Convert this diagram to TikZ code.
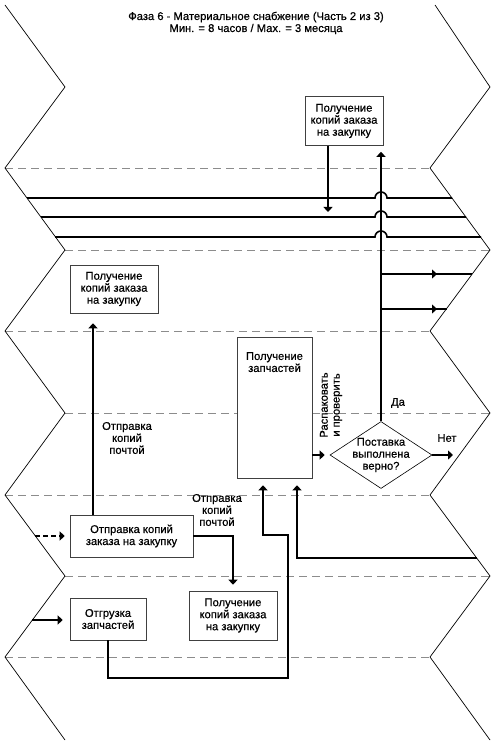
\documentclass[tikz,border=0pt]{standalone}
\usepackage{fontspec}
\setmainfont{Liberation Sans}[FakeBold=0.5]
\usetikzlibrary{calc,arrows.meta,shapes.geometric,decorations.markings}
\tikzset{
	box/.style={draw=black!75, line width=0.6pt, fill=white, align=center, inner sep=2pt, font=\fontsize{11.2}{12}\selectfont},
	decision/.style={diamond, draw=black, line width=0.6pt, fill=white, inner sep=0pt, minimum width=102pt, minimum height=67pt},
	txt/.style={align=center, font=\fontsize{11.2}{12}\selectfont},
	flow/.style={line width=1.6pt, -{Triangle[width=9pt,length=5pt]}},
	branch/.style={line width=1.6pt, postaction={decorate}, decoration={markings, mark=at position 56pt with {\arrow{Triangle[width=9pt,length=5pt]}}}},
	bus/.style={line width=1.6pt},
	lane/.style={line width=0.7pt},
	sep/.style={draw=black!45, line width=0.8pt, dash pattern=on 8pt off 5pt},
}
\def\hopline(#1)(#2)(#3){\draw[bus] (#1) -- ($(#3)+(-6,0)$) arc (180:360:6) -- (#2);}

\begin{document}
\begin{tikzpicture}[x=1pt, y=-1pt]
	%%%%% START %%%%%
	\useasboundingbox (0,0) rectangle (500,751);
	
	\draw[sep] (5,168) -- (430,168);
	\draw[sep] (65,250) -- (490,250);
	\draw[sep] (5,331) -- (430,331);
	\draw[sep] (65,413) -- (490,413);
	\draw[sep] (5,495) -- (430,495);
	\draw[sep] (65,576) -- (490,576);
	\draw[sep] (5,657) -- (430,657);
	
	\draw[lane] (5,5) -- (65,87) -- (5,168) -- (65,250) -- (5,331) -- (65,413) -- (5,495) -- (65,576) -- (5,657) -- (65,740);
	\draw[lane] (435,5) -- (490,87) -- (430,168) -- (490,250) -- (430,331) -- (490,413) -- (430,495) -- (490,576) -- (430,657) -- (490,740);
	
	\node[txt] (title) at (256,23) {Фаза 6 - Материальное снабжение (Часть 2 из 3)\\Мин. = 8 часов / Мах. = 3 месяца};
	
	\node[box, minimum width=78pt, minimum height=49pt] (getA) at (344,121) {Получение\\копий заказа\\на закупку};
	\node[box, minimum width=88pt, minimum height=48pt] (getB) at (114,289) {Получение\\копий заказа\\на закупку};
	\node[box, minimum width=75pt, minimum height=141pt, label={[txt, anchor=north, yshift=-12pt]north:{Получение\\запчастей}}] (getC) at (274.5,407.5) {};
	\node[decision, label={[txt]center:{Поставка\\выполнена\\верно?}}] (check) at (381,455) {};
	\node[box, minimum width=123pt, minimum height=42pt] (sendE) at (131.5,536) {Отправка копий\\заказа на закупку};
	\node[box, minimum width=88pt, minimum height=49pt] (getF) at (233,615.5) {Получение\\копий заказа\\на закупку};
	\node[box, minimum width=76pt, minimum height=42pt] (ship) at (108,619) {Отгрузка\\запчастей};
	
	\node[txt] (mailB) at (127,438) {Отправка\\копий\\почтой};
	\node[txt] (mailF) at (217,510) {Отправка\\копий\\почтой};
	\node[txt, rotate=90] (unpack) at (331,405) {Распаковать\\и проверить};
	\node[txt] (yes) at (398,403) {Да};
	\node[txt] (no) at (447,438) {Нет};
	
	% bus lines with hops
	\coordinate (L1) at (27,198);  \coordinate (R1) at (452,198);
	\coordinate (L2) at (41,217);  \coordinate (R2) at (466,217);
	\coordinate (L3) at (55,237);  \coordinate (R3) at (481,237);
	\hopline(L1)(R1)(check.north |- L1)
	\hopline(L2)(R2)(check.north |- L2)
	\hopline(L3)(R3)(check.north |- L3)
	
	% loose ends
	\coordinate (tap) at (328,217);
	\coordinate (out1) at (472,274);
	\coordinate (out2) at (447,309);
	\coordinate (noEnd) at (453,455);
	\coordinate (inE) at (35,536);
	\coordinate (inS) at (32,620);
	\coordinate (mail) at (93,0);
	\coordinate (via1) at (288,678);
	\coordinate (via2) at (263,535);
	\coordinate (via3) at (297,558);
	\coordinate (back) at (477,558);
	
	\draw[flow, shorten >=5pt] (getA.south -| tap) -- (tap);
	\draw[flow, shorten >=6pt] (check.north) -- (check.north |- getA.south);
	\draw[branch] (check.north |- out1) -- (out1);
	\draw[branch] (check.north |- out2) -- (out2);
	\draw[flow, shorten >=5pt] (getC.east |- check) -- (check.west);
	\draw[flow] (check.east) -- (noEnd);
	\draw[flow, shorten >=10pt] (sendE.north -| mail) -- (getB.south -| mail);
	\draw[flow, shorten >=6pt] (sendE.east) -| (getF.north);
	\draw[flow, dashed, dash pattern=on 5pt off 3pt, shorten >=5pt] (inE) -- (sendE.west);
	\draw[flow, shorten >=7pt] (inS) -- (ship.west |- inS);
	\draw[flow, shorten >=7pt] (ship.south) |- (via1) |- (via2) -- (via2 |- getC.south);
	\draw[flow, shorten >=7pt] (back) -- (via3) -- (via3 |- getC.south);
	%%%%% END %%%%%
\end{tikzpicture}
\end{document}
